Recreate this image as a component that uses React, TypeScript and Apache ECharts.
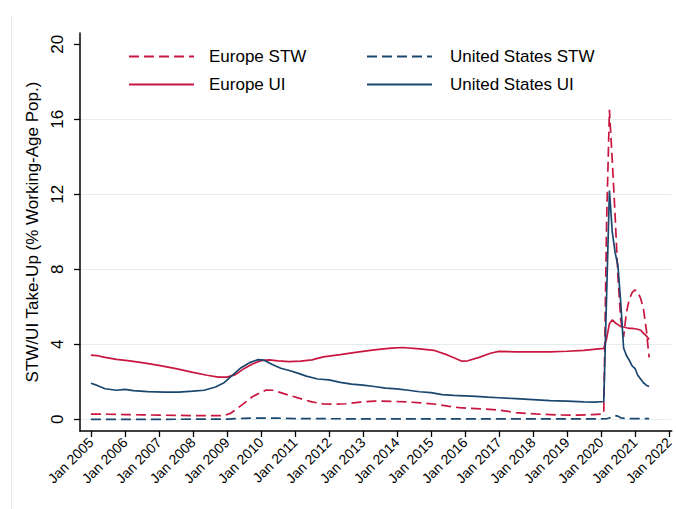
import React, { useEffect, useRef } from "react";
import * as echarts from "echarts";

const FONT = '"Liberation Sans", Arial, Helvetica, sans-serif';
const RED = "#c8163f";
const NAVY = "#1a476f";

// x = months since Jan 2005
const xTickMonths = [0, 12, 24, 36, 48, 60, 72, 84, 96, 108, 120, 132, 144, 156, 168, 180, 192, 204];
const yTickValues = [0, 4, 8, 12, 16, 20];
const yTitle = "STW/UI Take-Up (% Working-Age Pop.)";

const europeSTW: [number, number][] = [
  [0, 0.28], [6, 0.27], [12, 0.25], [18, 0.24], [24, 0.22], [30, 0.21], [36, 0.2], [42, 0.19], [47, 0.2],
  [49, 0.3], [51, 0.5], [54, 0.85], [57, 1.2], [60, 1.45], [62, 1.56], [64, 1.55], [67, 1.42], [70, 1.28],
  [74, 1.1], [78, 0.93], [82, 0.82], [86, 0.8], [90, 0.83], [95, 0.92], [100, 0.97], [106, 0.96], [112, 0.92],
  [118, 0.86], [122, 0.8], [126, 0.7], [130, 0.62], [134, 0.58], [138, 0.55], [142, 0.52], [146, 0.45],
  [150, 0.36], [155, 0.3], [160, 0.26], [166, 0.23], [172, 0.22], [177, 0.25], [180, 0.28], [181, 0.3],
  [182, 10.5], [183, 16.5], [184, 13.8], [185, 10.9], [186, 7.6], [187, 5.3], [188, 4.4], [189, 5.7],
  [190, 6.4], [191, 6.75], [192, 6.9], [193, 6.8], [194, 6.45], [195, 5.9], [196, 4.8], [197, 3.3],
];

const usSTW: [number, number][] = [
  [0, 0], [24, 0], [48, 0.01], [54, 0.05], [60, 0.07], [66, 0.06], [72, 0.04], [84, 0.03], [108, 0.02],
  [180, 0.02], [182, 0.03], [184, 0.12], [185, 0.2], [186, 0.17], [187, 0.08], [189, 0.04], [197, 0.04],
];

const europeUI: [number, number][] = [
  [0, 3.42], [2, 3.4], [5, 3.3], [9, 3.2], [13, 3.13], [18, 3.02], [24, 2.88], [30, 2.7], [36, 2.5],
  [41, 2.35], [45, 2.25], [48, 2.25], [51, 2.38], [54, 2.7], [57, 2.95], [60, 3.13], [63, 3.17], [66, 3.12],
  [70, 3.08], [74, 3.1], [78, 3.17], [82, 3.33], [88, 3.45], [94, 3.58], [100, 3.7], [106, 3.8], [110, 3.83],
  [116, 3.76], [121, 3.68], [126, 3.42], [131, 3.1], [133, 3.12], [137, 3.3], [141, 3.52], [144, 3.62],
  [150, 3.6], [156, 3.6], [162, 3.6], [168, 3.63], [174, 3.68], [181, 3.78], [182, 4.3], [183, 5.1],
  [184, 5.3], [185, 5.15], [186, 5.05], [187, 4.95], [188, 4.92], [189, 4.88], [190, 4.85], [191, 4.85],
  [192, 4.83], [193, 4.8], [194, 4.75], [195, 4.6], [196, 4.45], [197, 4.25],
];

const usUI: [number, number][] = [
  [0, 1.92], [2, 1.82], [5, 1.63], [9, 1.55], [12, 1.6], [15, 1.53], [20, 1.48], [26, 1.45], [31, 1.45],
  [36, 1.5], [40, 1.55], [44, 1.72], [47, 1.95], [50, 2.35], [53, 2.75], [56, 3.02], [59, 3.18], [61, 3.16],
  [64, 2.92], [67, 2.72], [70, 2.6], [73, 2.46], [76, 2.3], [80, 2.15], [84, 2.1], [88, 1.97], [92, 1.88],
  [96, 1.82], [100, 1.75], [104, 1.66], [108, 1.62], [112, 1.55], [116, 1.47], [120, 1.42], [124, 1.32],
  [128, 1.28], [132, 1.25], [136, 1.22], [140, 1.18], [144, 1.15], [150, 1.1], [156, 1.05], [162, 1.0],
  [168, 0.97], [174, 0.93], [178, 0.92], [181, 0.95], [183, 12.2], [184, 10.0], [185, 8.9], [186, 8.2],
  [187, 6.2], [188, 3.8], [189, 3.4], [190, 3.15], [191, 2.85], [192, 2.72], [193, 2.35], [194, 2.15],
  [195, 1.95], [196, 1.82], [197, 1.75],
];

const DASH = [10, 5];

export default function App() {
  const ref = useRef<HTMLDivElement>(null);
  useEffect(() => {
    if (!ref.current) return;
    const chart = echarts.init(ref.current, undefined, { renderer: "svg" });
    const line = (name: string, data: [number, number][], color: string, dashed: boolean) => ({
      name,
      type: "line",
      data,
      symbol: "none",
      showSymbol: false,
      color,
      lineStyle: { color, width: 1.7, type: dashed ? DASH : "solid" },
      emphasis: { disabled: true },
    });
    const legendBase = {
      top: 48,
      orient: "vertical",
      padding: 0,
      itemWidth: 65,
      itemHeight: 14,
      itemGap: 11,
      selectedMode: false,
      itemStyle: { opacity: 0 },
    };
    chart.setOption({
      animation: false,
      backgroundColor: "#ffffff",
      textStyle: { fontFamily: FONT },
      grid: { left: 80, right: 0, top: 33, bottom: 78 },
      legend: [
        {
          ...legendBase,
          data: ["Europe STW", "Europe UI"],
          left: 128,
          textStyle: { fontSize: 17, color: "#000", fontFamily: FONT, padding: [0, 0, 0, 10] },
        },
        {
          ...legendBase,
          data: ["United States STW", "United States UI"],
          left: 366,
          textStyle: { fontSize: 17, color: "#000", fontFamily: FONT, padding: [0, 0, 0, 13] },
        },
      ],
      xAxis: {
        type: "value",
        min: -3.85,
        max: 205.0,
        axisLine: { show: true, onZero: false, lineStyle: { color: "#000", width: 1.5 } },
        axisTick: { show: true, length: 6, customValues: xTickMonths, lineStyle: { color: "#000", width: 1.3 } },
        axisLabel: {
          customValues: xTickMonths,
          formatter: (v: number) => "Jan " + (2005 + Math.round(v / 12)),
          rotate: 45,
          margin: 9,
          fontSize: 14,
          color: "#000",
          fontFamily: FONT,
        },
        splitLine: { show: false },
      },
      yAxis: {
        type: "value",
        min: -0.624,
        max: 20.6,
        name: yTitle,
        nameLocation: "middle",
        nameGap: 29,
        nameTextStyle: { fontSize: 17, color: "#000", fontFamily: FONT },
        axisLine: { show: true, onZero: false, lineStyle: { color: "#000", width: 1.5 } },
        axisTick: { show: true, length: 6, customValues: yTickValues, lineStyle: { color: "#000", width: 1.3 } },
        axisLabel: {
          customValues: yTickValues,
          rotate: 90,
          margin: 14,
          fontSize: 17,
          color: "#000",
          fontFamily: FONT,
        },
        splitLine: { show: true, lineStyle: { color: "#e3edf0", width: 1 } },
      },
      graphic: [
        {
          type: "line",
          shape: { x1: 11.5, y1: 15, x2: 11.5, y2: 509 },
          style: { stroke: "#e4ebee", lineWidth: 1 },
          silent: true,
        },
        {
          type: "rect",
          z: 100,
          shape: { x: 81, y: 42.5, width: 595, height: 3.5 },
          style: { fill: "#ffffff" },
          silent: true,
        },
      ],
      series: [
        line("Europe STW", europeSTW, RED, true),
        line("United States STW", usSTW, NAVY, true),
        line("Europe UI", europeUI, RED, false),
        line("United States UI", usUI, NAVY, false),
      ],
    });
    return () => chart.dispose();
  }, []);
  return (
    <div
      ref={ref}
      style={{ position: "fixed", left: 0, top: 0, width: 676, height: 509, background: "#fff" }}
    />
  );
}
